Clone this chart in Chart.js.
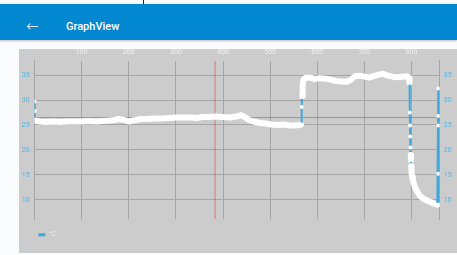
<!DOCTYPE html>
<html>
<head>
<meta charset="utf-8">
<script src="https://cdn.jsdelivr.net/npm/chart.js@4"></script>
<style>
  html, body { margin: 0; padding: 0; }
  body { width: 457px; height: 255px; overflow: hidden; background: #fafbfc; position: relative; font-family: Roboto, sans-serif; }
  #mark { position: absolute; left: 143px; top: 0; width: 1px; height: 4px; background: #222; }
  #bar { position: absolute; left: 0; top: 4px; width: 457px; height: 36px; background: #0288d1; box-shadow: 0 1px 2px rgba(0,0,0,0.25); }
  #back { position: absolute; left: 26px; top: 12px; color: #fff; font-size: 15px; line-height: 20px; font-family: "DejaVu Sans", sans-serif; font-weight: 300; }
  #title { position: absolute; left: 66px; top: 16px; color: #fff; font-size: 11px; line-height: 14px; font-weight: 500; }
  #panel { position: absolute; left: 19px; top: 49px; width: 438px; height: 204px; background: #cccccc; }
</style>
</head>
<body>
<div id="mark"></div>
<div id="bar"><span id="back">←</span><span id="title">GraphView</span></div>
<div id="panel"><canvas id="TempChart"></canvas></div>
<script>
// readings (x = sample index, y = temperature)
const times = [0, 0.5, 1, 10, 25, 40, 55, 70, 85, 100, 115, 130, 145, 160, 170, 178, 190, 200, 210, 225,
  240, 255, 270, 285, 300, 315, 330, 345, 355, 370, 385, 400, 415, 428, 438, 446, 455, 465, 478, 490,
  503, 516, 530, 542, 553, 562, 566, 567, 568, 568.5, 569.5, 571, 576, 585, 595, 605, 616, 628, 640, 652,
  664, 672, 680, 690, 700, 710, 720, 730, 740, 750, 760, 770, 780, 790, 795, 796, 796.5, 797, 797.5, 798,
  798.5, 799, 799.5, 800, 800.5, 801.5, 803, 805, 807, 809, 812, 815, 819, 824, 830, 836, 842, 848, 855,
  857, 857, 857, 857, 857];
const temps = [29.7, 27.8, 25.9, 25.7, 25.6, 25.7, 25.6, 25.7, 25.7, 25.7, 25.8, 25.7, 25.8, 25.9, 26.0, 26.2, 26.0, 25.7, 25.9, 26.2,
  26.2, 26.3, 26.3, 26.4, 26.5, 26.5, 26.5, 26.4, 26.6, 26.6, 26.7, 26.6, 26.5, 26.7, 27.0, 26.6, 26.0, 25.7, 25.4, 25.3,
  25.1, 25.0, 25.1, 24.9, 24.9, 25.0, 25.1, 28.6, 30.8, 31.9, 33.0, 34.1, 34.5, 34.5, 34.2, 34.4, 34.3, 34.1, 33.8, 33.7,
  33.7, 34.1, 34.8, 34.9, 34.7, 34.5, 34.8, 35.1, 35.3, 34.9, 34.7, 34.6, 34.7, 34.8, 34.4, 33.5, 27.5, 24.9, 22.7, 20.5,
  19.0, 18.0, 16.7, 16.0, 15.3, 14.6, 14.0, 13.3, 12.7, 12.2, 11.7, 11.2, 10.7, 10.3, 10.0, 9.7, 9.5, 9.2, 9.0,
  32.3, 26.8, 24.9, 15.2, 9.0];

const limitX = 383;     // vertical limit line
const limitY = 26.5;    // horizontal limit line
const xMax = 860;
const yMin = 6.1, yMax = 37.9;

const blue = '#3fa9dc';
const limitColor = 'rgba(215,90,90,0.7)';
const tickFont = { family: 'Roboto', size: 7 };

// a jump between two readings is drawn as the thin blue line
function isJump(c) {
  return Math.abs(temps[c.p1DataIndex] - temps[c.p0DataIndex]) > 1.2;
}

// move the legend in a bit from the left edge, like the app does
const legendShift = {
  id: 'legendShift',
  afterLayout(chart) {
    chart.legend.left += 7.3;
  }
};

const ctx = document.getElementById('TempChart');

let TempChart = new Chart(ctx, {
  type: 'line',
  data: {
    datasets: [{
      label: '°C',
      data: times.map((t, i) => ({ x: t, y: temps[i] })),
      borderColor: blue,
      backgroundColor: blue,
      borderWidth: 2,
      borderCapStyle: 'round',
      borderJoinStyle: 'round',
      pointRadius: 2,
      pointBorderWidth: 0,
      pointBackgroundColor: '#ffffff',
      tension: 0,
      segment: {
        borderColor: c => isJump(c) ? blue : '#ffffff',
        borderWidth: c => isJump(c) ? 2 : 6
      }
    }, {
      label: 'limitX',
      data: [{ x: limitX, y: yMin }, { x: limitX, y: yMax }],
      borderColor: limitColor,
      borderWidth: 1,
      pointRadius: 0
    }, {
      label: 'limitY',
      data: [{ x: 0, y: limitY }, { x: xMax, y: limitY }],
      borderColor: limitColor,
      borderWidth: 1,
      pointRadius: 0
    }]
  },
  options: {
    animation: false,
    responsive: true,
    maintainAspectRatio: false,
    layout: { padding: { left: 0, right: 0, top: 0, bottom: 4.8 } },
    plugins: {
      tooltip: { enabled: false },
      legend: {
        position: 'bottom',
        align: 'start',
        labels: {
          boxWidth: 7,
          boxHeight: 3,
          padding: 12,
          color: '#efefef',
          font: tickFont,
          generateLabels: () => [{
            text: '°C', fillStyle: blue, strokeStyle: blue, lineWidth: 0,
            fontColor: '#efefef', datasetIndex: 0, hidden: false
          }]
        }
      }
    },
    scales: {
      x: {
        type: 'linear',
        position: 'top',
        min: 0,
        max: xMax,
        afterBuildTicks: a => { a.ticks = a.ticks.filter(t => t.value > 0 && t.value % 100 === 0); },
        afterFit: a => { a.height = 11.7; },
        ticks: { stepSize: 100, color: '#f0f0f0', font: tickFont, padding: 4, maxRotation: 0 },
        grid: { color: '#a5a5a5', drawTicks: false },
        border: { display: false }
      },
      y: {
        min: yMin,
        max: yMax,
        afterBuildTicks: a => { a.ticks = a.ticks.filter(t => Math.abs(t.value % 5) < 1e-6); },
        afterFit: a => { a.width = 15.6; },
        ticks: { stepSize: 5, color: '#56b4e3', font: tickFont, padding: 5 },
        grid: { color: '#a5a5a5', drawTicks: false },
        border: { display: true, color: '#a5a5a5' }
      },
      y1: {
        position: 'right',
        min: yMin,
        max: yMax,
        afterBuildTicks: a => { a.ticks = a.ticks.filter(t => Math.abs(t.value % 5) < 1e-6); },
        afterFit: a => { a.width = 17.3; },
        ticks: { stepSize: 5, color: '#56b4e3', font: tickFont, padding: 4 },
        grid: { drawOnChartArea: false, drawTicks: false },
        border: { display: true, color: '#a5a5a5' }
      }
    }
  },
  plugins: [legendShift]
});
</script>
</body>
</html>
